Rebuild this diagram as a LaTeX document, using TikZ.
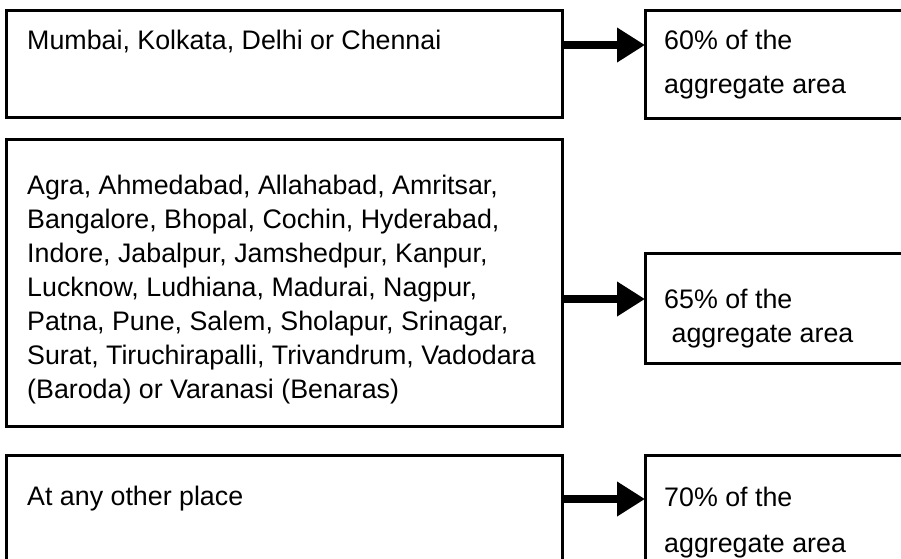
\documentclass[tikz,border=0pt]{standalone}
\usepackage{fontspec}
\setmainfont{Liberation Sans}
\usetikzlibrary{arrows.meta}

\tikzset{
  box/.style={shape=rectangle,draw=black,line width=3pt,inner sep=0pt,outer sep=0pt,anchor=north west},
  txt/.style={inner sep=0pt,align=left,font=\fontsize{26.8}{34}\selectfont},
  arr/.style={line width=8pt,-{Triangle[length=28pt,width=33pt]}}
}

\begin{document}
\begin{tikzpicture}[x=1pt,y=1pt]
    \clip (0,0) rectangle (901,-558);
    \node[box,minimum width=556pt,minimum height=107pt] (city1) at (6,-10) {};
    \node[box,minimum width=556pt,minimum height=287pt] (city2) at (6,-139) {};
    \node[box,minimum width=556pt,minimum height=130pt] (city3) at (6,-455) {};
    \node[box,minimum width=270pt,minimum height=108pt] (area1) at (645,-10) {};
    \node[box,minimum width=270pt,minimum height=110pt] (area2) at (645,-253) {};
    \node[box,minimum width=270pt,minimum height=130pt] (area3) at (645,-455) {};
    \node[txt,anchor=base west] (t1) at (27,-49) {Mumbai, Kolkata, Delhi or Chennai};
    \node[txt,anchor=north west] (t2) at (27,-174.5) {Agra, Ahmedabad, Allahabad, Amritsar,\\
        Bangalore, Bhopal, Cochin, Hyderabad,\\
        Indore, Jabalpur, Jamshedpur, Kanpur,\\
        Lucknow, Ludhiana, Madurai, Nagpur,\\
        Patna, Pune, Salem, Sholapur, Srinagar,\\
        Surat, Tiruchirapalli, Trivandrum, Vadodara\\
        (Baroda) or Varanasi (Benaras)};
    \node[txt,anchor=base west] (t3) at (27,-505) {At any other place};
    \node[txt,anchor=north west] (p1) at (664,-29.7) {60\% of the\\[10pt]aggregate area};
    \node[txt,anchor=north west] (p2) at (664,-288.7) {65\% of the\\\hspace*{7.4pt}aggregate area};
    \node[txt,anchor=north west] (p3) at (664,-486.7) {70\% of the\\[12pt]aggregate area};
    \coordinate (y1) at (0,-45);
    \coordinate (y2) at (0,-299);
    \coordinate (y3) at (0,-499);
    \draw[arr] (city1.east |- y1) -- (area1.west |- y1);
    \draw[arr] (city2.east |- y2) -- (area2.west |- y2);
    \draw[arr] (city3.east |- y3) -- (area3.west |- y3);
\end{tikzpicture}
\end{document}
